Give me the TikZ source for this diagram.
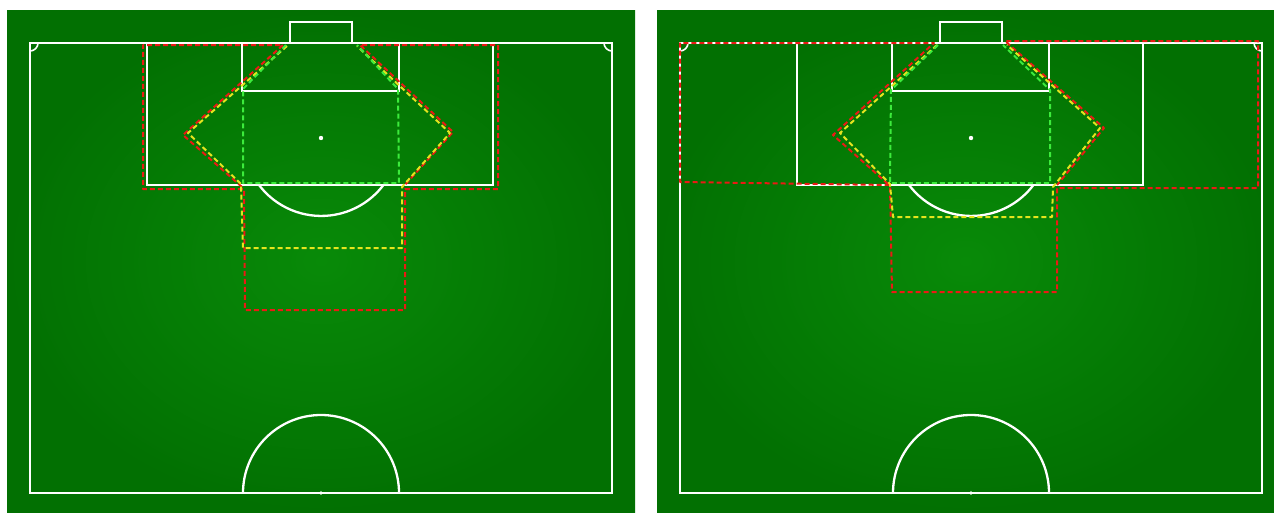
\documentclass[tikz,border=0pt]{standalone}
\usetikzlibrary{shadings}
\definecolor{fielddark}{RGB}{2,112,2}
\definecolor{fieldmid}{RGB}{8,138,8}
\definecolor{zred}{RGB}{235,25,20}
\definecolor{zyellow}{RGB}{228,228,30}
\definecolor{zgreen}{RGB}{60,235,60}
\tikzset{
  panel/.style={inner color=fieldmid, outer color=fielddark, draw=none},
  pline/.style={draw=white, line width=2.3pt},
  zone/.style={line width=2pt, dash pattern=on 5pt off 3pt, line join=round},
  zonered/.style={zone, draw=zred},
  zoneyellow/.style={zone, draw=zyellow},
  zonegreen/.style={zone, draw=zgreen},
}
\newcommand{\mypitch}{%
  \draw[pline] (30,43) rectangle (612,493);
  \draw[pline] (290,43) -- (290,22) -- (352,22) -- (352,43);
  \draw[pline] (147,43) rectangle (493,185);
  \draw[pline] (242,43) rectangle (399,91);
  \fill[white] (321,138) circle[radius=2.2pt];
  \fill[white] (321,493) circle[radius=1.8pt];
  \draw[pline] (259,185) arc[start angle=217.1, end angle=322.9, radius=78pt];
  \draw[pline] (243,493) arc[start angle=180, end angle=0, radius=78pt];
  \draw[pline, line width=1.6pt] (38,43) arc[start angle=0, end angle=-90, radius=8pt];
  \draw[pline, line width=1.6pt] (604,43) arc[start angle=180, end angle=270, radius=8pt];
}
\begin{document}
\begin{tikzpicture}[x=1pt,y=-1pt]
\useasboundingbox (0,0) rectangle (1274,512);
\fill[white] (0,0) rectangle (1274,512);
\shade[panel] (7,10) rectangle (635,512);
\shade[panel] (657,10) rectangle (1274,512);
% left pitch
\begin{scope}
\mypitch
\end{scope}
% right pitch
\begin{scope}[xshift=650pt]
\mypitch
\end{scope}
% left zones
\draw[zonered] (242,187) -- (183,135) -- (283,45) -- (143,45) -- (143,189) -- (244,189) -- (245,310) -- (405,310) -- (405,189) -- (498,189) -- (498,45) -- (360,45) -- (453,132) -- (403,187);
\draw[zoneyellow] (287,46) -- (188,133) -- (241,184) -- (243,248) -- (402,248) -- (402,187) -- (450,133) -- (357,46);
\draw[zonegreen] (286,45) -- (243,89) -- (243,183) -- (399,183) -- (398,89) -- (357,45);
% right zones
\draw[zonered] (888,184) -- (833,135) -- (934,43) -- (680,43) -- (680,182) -- (890,185) -- (892,292) -- (1057,292) -- (1057,188) -- (1258,188) -- (1258,41) -- (1005,41) -- (1104,128) -- (1057,185);
\draw[zoneyellow] (937,45) -- (840,133) -- (890,184) -- (893,217) -- (1052,217) -- (1053,187) -- (1100,128) -- (1007,45);
\draw[zonegreen] (938,45) -- (891,90) -- (890,183) -- (1050,183) -- (1050,90) -- (1003,45);
\end{tikzpicture}
\end{document}
